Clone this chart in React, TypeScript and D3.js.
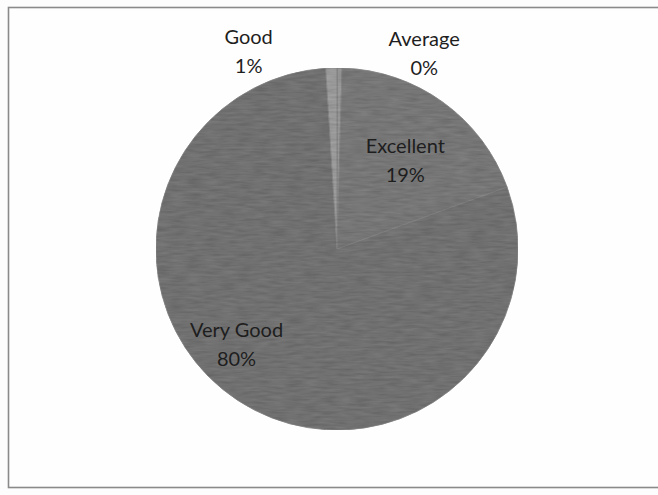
import { useMemo } from 'react';
import * as d3 from 'd3';

const WIDTH = 658;
const HEIGHT = 495;

// data (clockwise from 12 o'clock)
const categories = ['Average', 'Excellent', 'Very Good', 'Good'];
const shares = [0.45, 19, 79.6, 1];
const colors = ['#a4a4a4', '#838383', '#7d7d7d', '#a9a9a9'];

// where Excel put each label: extra angle (deg) from the slice middle and radius
const labelTurn = [23, 1, 14, -22];
const labelRadius = [216, 114, 137, 219];

type Slice = d3.PieArcDatum<number>;

const App = () => {
  const cx = 337;
  const cy = 249;
  const radius = 181;

  const slices = useMemo(() => {
    const pie = d3.pie<number>().sort(null).value((d) => d);
    return pie(shares);
  }, []);

  const arcGen = d3.arc<Slice>().innerRadius(0).outerRadius(radius);
  const total = d3.sum(shares);
  const pct = (v: number) => `${Math.round((v / total) * 100)}%`;

  return (
    <svg
      width={WIDTH}
      height={HEIGHT}
      style={{ position: 'absolute', left: 0, top: 0, background: '#fdfdfd' }}
    >
      <defs>
        <filter id="scan" x="0" y="0" width="100%" height="100%">
          <feTurbulence type="fractalNoise" baseFrequency="0.06 0.4" numOctaves="2" seed="4" result="n" />
          <feColorMatrix
            in="n"
            type="matrix"
            values="0 0 0 0 0  0 0 0 0 0  0 0 0 0 0  0 0 0 0.4 0"
            result="dark"
          />
          <feComposite in="dark" in2="SourceGraphic" operator="in" result="tex" />
          <feMerge>
            <feMergeNode in="SourceGraphic" />
            <feMergeNode in="tex" />
          </feMerge>
        </filter>
      </defs>

      {/* chart frame */}
      <rect x={8.5} y={7.5} width={660} height={480} fill="#fefefe" stroke="#8a8a8a" strokeWidth={1.6} />

      <g transform={`translate(${cx},${cy})`}>
        <g filter="url(#scan)">
          {slices.map((s, i) => (
            <path key={categories[i]} d={arcGen(s) || ''} fill={colors[i]} stroke="#8c8c8c" strokeWidth={0.8} />
          ))}
        </g>
        {slices.map((s, i) => {
          const mid = (s.startAngle + s.endAngle) / 2 + (labelTurn[i] * Math.PI) / 180;
          const r = labelRadius[i];
          const x = Math.sin(mid) * r;
          const y = -Math.cos(mid) * r;
          return (
            <text
              key={categories[i]}
              x={x}
              y={y}
              textAnchor="middle"
              fontFamily="Lato, 'Open Sans', sans-serif"
              fontSize={20}
              fill="#1e1e1e"
            >
              <tspan x={x} dy="-0.25em">{categories[i]}</tspan>
              <tspan x={x} dy="1.45em">{pct(shares[i])}</tspan>
            </text>
          );
        })}
      </g>
    </svg>
  );
};

export default App;
